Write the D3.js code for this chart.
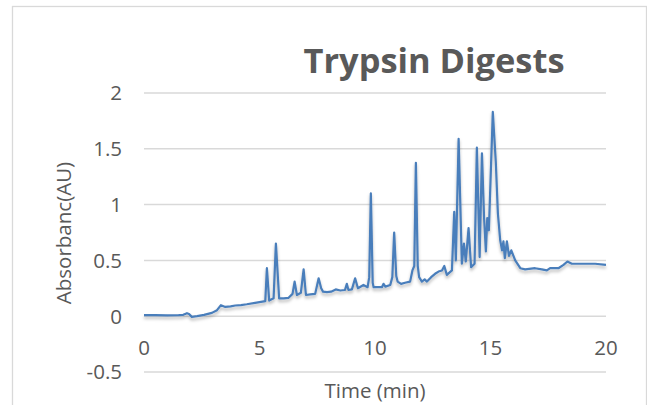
<!doctype html>
<html>
  <head>
    <meta charset="utf-8">
    <title>Trypsin Digests</title>
    <script src="https://cdnjs.cloudflare.com/ajax/libs/d3/7.8.5/d3.min.js"></script>
    <style>
      body { margin: 0; background: #fff; }
      text { font-family: "Open Sans", sans-serif; fill: #595959; }
    </style>
  </head>
  <body>
    <div id="chart"></div>
    <script>
    // chromatogram
    let timeMin = [0, 0.5, 1, 1.5, 1.7, 1.86, 1.95, 2.07, 2.3, 2.6, 2.94, 3.16, 3.33, 3.52, 3.75, 3.95, 4.2, 4.45, 4.81,
      5.25, 5.32, 5.42, 5.61, 5.71, 5.85, 6.05, 6.26, 6.43, 6.52, 6.62, 6.79, 6.91, 7.01, 7.2, 7.41, 7.56, 7.67, 7.75, 7.92,
      8.1, 8.3, 8.5, 8.7, 8.78, 8.85, 9, 9.14, 9.26, 9.5, 9.68, 9.75, 9.82, 9.9, 9.94, 10.1, 10.3, 10.37, 10.45, 10.66,
      10.75, 10.83, 10.92, 10.98, 11.13, 11.3, 11.52, 11.62, 11.7, 11.77, 11.85, 11.91, 12.03, 12.15, 12.25, 12.43, 12.6,
      12.75, 12.9, 13, 13.11, 13.33, 13.43, 13.5, 13.62, 13.76, 13.85, 13.93, 14.05, 14.16, 14.31, 14.41, 14.53, 14.63,
      14.72, 14.8, 14.86, 14.93, 15.1, 15.23, 15.32, 15.42, 15.5, 15.56, 15.62, 15.71, 15.8, 15.9, 16.07, 16.29, 16.5,
      16.93, 17.22, 17.44, 17.58, 17.94, 18.16, 18.33, 18.52, 19.1, 19.53, 20];
    let absorbance = [0.01, 0.01, 0.008, 0.01, 0.012, 0.027, 0.02, -0.006, 0, 0.012, 0.03, 0.054, 0.099, 0.083, 0.088, 0.096, 0.1, 0.107, 0.12,
      0.135, 0.43, 0.14, 0.16, 0.65, 0.16, 0.16, 0.165, 0.2, 0.31, 0.19, 0.21, 0.42, 0.19, 0.195, 0.2, 0.34, 0.25, 0.22, 0.215,
      0.22, 0.24, 0.23, 0.235, 0.29, 0.235, 0.24, 0.34, 0.25, 0.28, 0.26, 0.35, 1.1, 0.3, 0.26, 0.26, 0.26, 0.29, 0.265, 0.28,
      0.35, 0.75, 0.36, 0.31, 0.29, 0.3, 0.31, 0.41, 0.45, 1.375, 0.45, 0.35, 0.31, 0.33, 0.31, 0.35, 0.38,
      0.4, 0.41, 0.45, 0.37, 0.41, 0.935, 0.5, 1.59, 0.47, 0.65, 0.49, 0.79, 0.44, 0.47, 1.51, 0.53, 1.46,
      0.89, 0.58, 0.88, 0.77, 1.83, 1.38, 0.92, 0.68, 0.59, 0.67, 0.52, 0.67, 0.54, 0.59, 0.5, 0.43, 0.42,
      0.43, 0.42, 0.41, 0.43, 0.43, 0.46, 0.49, 0.47, 0.47, 0.47, 0.46];

    let xTicks = [0, 5, 10, 15, 20];
    let yTicks = [-0.5, 0, 0.5, 1, 1.5, 2];

    let width = 647, height = 405;
    let svg = d3.select("#chart").append("svg")
      .attr("width", width)
      .attr("height", height);

    // soft shadow under the line, like the Excel original
    let defs = svg.append("defs");
    defs.append("filter").attr("id", "shade")
      .attr("x", "-5%").attr("y", "-5%").attr("width", "110%").attr("height", "120%")
      .append("feDropShadow")
      .attr("dx", 0).attr("dy", 2.5).attr("stdDeviation", 1.6)
      .attr("flood-color", "#000").attr("flood-opacity", 0.28);

    // chart frame
    svg.append("rect")
      .attr("x", 12.5).attr("y", 6.5)
      .attr("width", 634).attr("height", 420)
      .attr("fill", "#fff")
      .attr("stroke", "#d9d9d9").attr("stroke-width", 1.3);

    let x = d3.scaleLinear().domain([0, 20]).range([144, 606]);
    let y = d3.scaleLinear().domain([-0.5, 2]).range([372, 93]);

    // gridlines
    svg.append("g").selectAll("line")
      .data(yTicks)
      .join("line")
      .attr("x1", x(0)).attr("x2", x(20))
      .attr("y1", d => y(d)).attr("y2", d => y(d))
      .attr("stroke", "#d9d9d9").attr("stroke-width", 1.5);

    // y tick labels
    svg.append("g").selectAll("text")
      .data(yTicks)
      .join("text")
      .attr("x", 122)
      .attr("y", d => y(d))
      .attr("dy", "0.36em")
      .attr("text-anchor", "end")
      .style("font-size", "20.5px")
      .text(d => d);

    // x tick labels sit just under the zero line
    svg.append("g").selectAll("text")
      .data(xTicks)
      .join("text")
      .attr("x", d => x(d))
      .attr("y", y(0) + 31)
      .attr("dy", "0.36em")
      .attr("text-anchor", "middle")
      .style("font-size", "20.5px")
      .text(d => d);

    // series
    let points = timeMin.map((t, i) => [t, absorbance[i]]);
    let line = d3.line()
      .x(d => x(d[0]))
      .y(d => y(d[1]));

    svg.append("path")
      .datum(points)
      .attr("d", line)
      .attr("fill", "none")
      .attr("stroke", "#4a7ebb")
      .attr("stroke-width", 2.2)
      .attr("stroke-linejoin", "round")
      .attr("filter", "url(#shade)");

    // titles
    svg.append("text")
      .attr("x", 434).attr("y", 73)
      .attr("text-anchor", "middle")
      .style("font-size", "34px")
      .style("font-weight", "bold")
      .attr("textLength", 261)
      .attr("lengthAdjust", "spacingAndGlyphs")
      .text("Trypsin Digests");

    svg.append("text")
      .attr("x", 375).attr("y", 398)
      .attr("text-anchor", "middle")
      .style("font-size", "20.5px")
      .text("Time (min)");

    svg.append("text")
      .attr("transform", "translate(71,233) rotate(-90)")
      .attr("text-anchor", "middle")
      .style("font-size", "20.5px")
      .text("Absorbanc(AU)");
    </script>
  </body>
</html>
